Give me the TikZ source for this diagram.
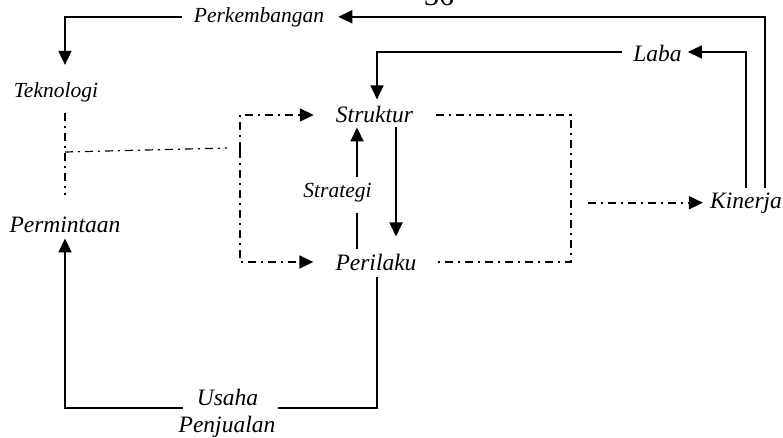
\documentclass[tikz,border=0pt]{standalone}
\usepackage{fontspec}
\setmainfont{Liberation Serif}
\usetikzlibrary{arrows.meta}
\tikzset{
  lbl/.style={inner sep=0pt, anchor=base, font=\itshape\fontsize{23.5}{26}\selectfont},
  lblsmall/.style={lbl, font=\itshape\fontsize{21.5}{24}\selectfont},
  solid link/.style={line width=1.8pt},
  thin link/.style={line width=1.3pt},
  dashdot link/.style={line width=1.7pt, dash pattern=on 8pt off 5pt on 2pt off 5pt},
  dashdot thin/.style={line width=1.2pt, dash pattern=on 8pt off 5pt on 2pt off 5pt},
  tip/.style={-{Triangle[length=14pt,width=13pt]}},
}
\begin{document}
\begin{tikzpicture}[x=1pt,y=-1pt]
\useasboundingbox (0,0) rectangle (783,438);

% page number, partly cut by the top edge
\node[anchor=base, inner sep=0pt, font=\fontsize{30}{32}\selectfont] (page) at (439,6) {36};

% labels
\node[lblsmall] (perk)  at (259,23)    {Perkembangan};
\node[lblsmall] (tek)   at (56,98)     {Teknologi};
\node[lbl]      (perm)  at (65,233)    {Permintaan};
\node[lbl]      (str)   at (374.5,123) {Struktur};
\node[lblsmall] (strat) at (337.5,197) {Strategi};
\node[lbl]      (per)   at (376,270)   {Perilaku};
\node[lbl]      (laba)  at (657.5,62)  {Laba};
\node[lbl]      (kin)   at (746,208)   {Kinerja};
\node[lbl]      (us1)   at (227.5,405) {Usaha};
\node[lbl]      (us2)   at (227,432)   {Penjualan};

% Kinerja feeds back to Perkembangan
\draw[solid link, tip, shorten <=4pt, shorten >=14pt] ([xshift=19pt]kin.north) |- ([yshift=1pt]perk.east);
% Perkembangan to Teknologi
\draw[solid link, tip, shorten <=12pt, shorten >=18pt] ([yshift=1pt]perk.west) -| ([xshift=9pt]tek.north);
% Kinerja to Laba
\draw[thin link, tip, shorten <=4pt, shorten >=6pt] (kin.north) |- ([yshift=2pt]laba.east);
% Laba to Struktur
\draw[thin link, tip, shorten <=11pt, shorten >=7pt] ([yshift=2pt]laba.west) -| ([xshift=2.5pt]str.north);
% Struktur to Perilaku
\draw[solid link, tip, shorten <=4pt, shorten >=17pt] ([xshift=21.5pt]str.south) -- ([xshift=20pt]per.north);
% Strategi up to Struktur
\draw[solid link, tip, shorten <=5.5pt, shorten >=4pt] ([xshift=19.5pt]strat.north) -- ([xshift=-17.5pt]str.south);
% Perilaku to Strategi
\draw[thin link, shorten <=11pt, shorten >=4pt] ([xshift=19.5pt]strat.south) -- ([xshift=-19pt]per.north);

% Perilaku through Usaha Penjualan to Permintaan
\coordinate (ul) at ([yshift=-3pt]us1.base);
\draw[solid link, shorten <=7pt, shorten >=2pt] ([xshift=1pt]per.south) |- (ul -| us2.east);
\draw[solid link, tip, shorten <=14pt, shorten >=5pt] (ul -| us1.west) -| (perm.south);

% Teknologi / Permintaan dash-dot links
\draw[dashdot thin, shorten <=10pt, shorten >=22pt] (tek.south -| perm.north) -- (perm.north);
\coordinate (tj) at (65,152);
\coordinate (bj) at (227,148);
\draw[dashdot thin] (tj) -- (bj);

% left bracket into Struktur and Perilaku
\coordinate (lb) at (240,150);
\draw[dashdot link, tip, shorten >=22pt] (lb) |- (str.west);
\draw[dashdot link, tip, shorten >=22pt] (lb) |- (per.west);

% right bracket out to Kinerja
\coordinate (rb) at (571,201);
\draw[dashdot link, shorten <=23pt, shorten >=20pt] (str.east) -| (rb) |- (per.east);
\draw[dashdot link, tip, shorten <=17pt, shorten >=7pt] (rb |- kin.west) -- (kin.west);
\end{tikzpicture}
\end{document}
